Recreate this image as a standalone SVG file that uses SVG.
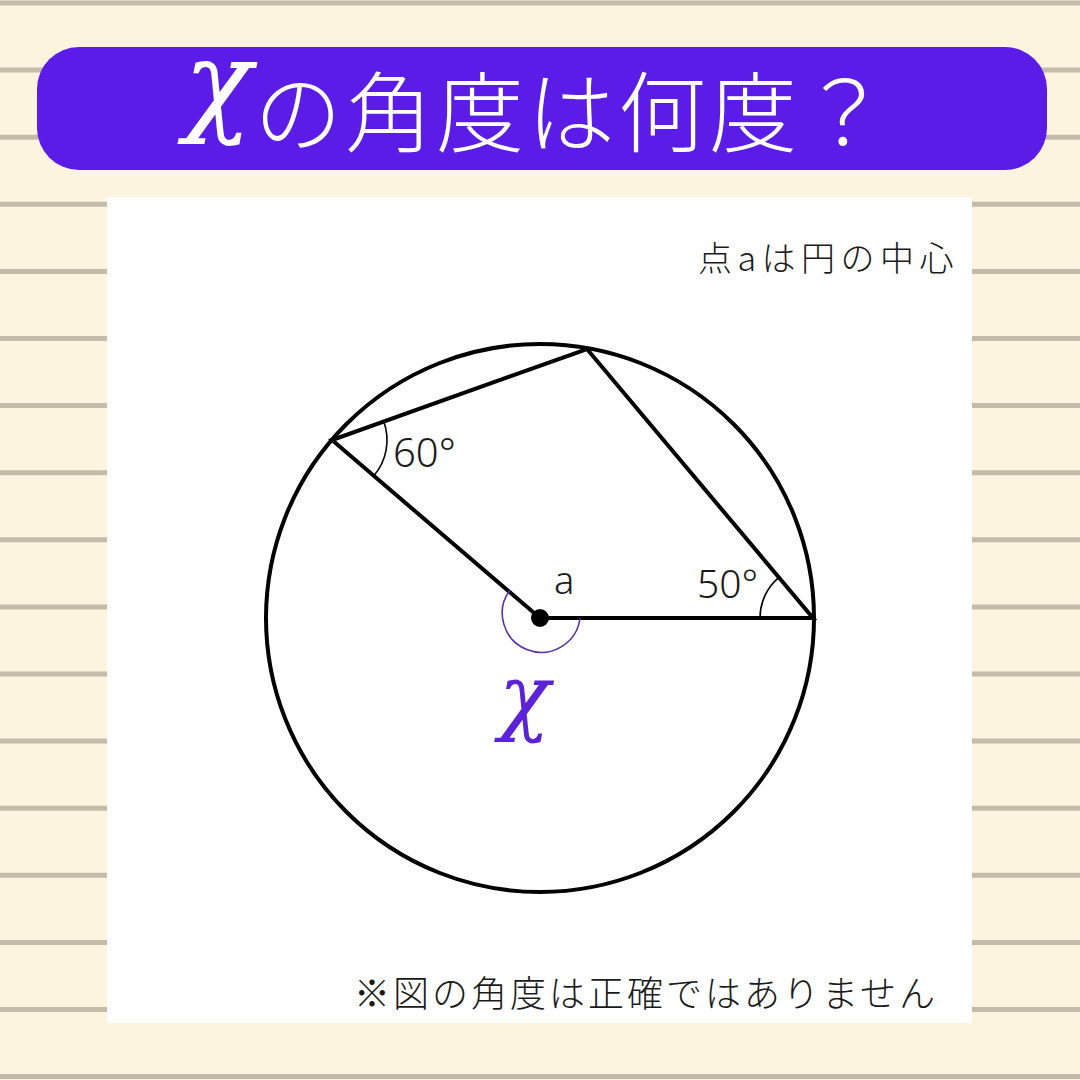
<svg xmlns="http://www.w3.org/2000/svg" width="1080" height="1080" viewBox="0 0 1080 1080">
<style>
.rule{stroke:#C4BBA9;stroke-width:5}
.jp{font-family:"Noto Sans CJK JP","Noto Sans",sans-serif;font-weight:300;fill:#1a1a1a}
.num{font-family:"Noto Sans","Noto Sans CJK JP",sans-serif;font-weight:300;fill:#1a1a1a}
.chi{font-family:"DejaVu Serif",serif;font-style:italic}
.edge{stroke:#000;stroke-width:4;fill:none;stroke-linecap:round}
.ang{stroke:#000;stroke-width:1.6;fill:none}
</style>
<rect width="1080" height="1080" fill="#FDF4DF"/>
<g id="rules">
<line class="rule" x1="0" y1="3" x2="1080" y2="3"/>
<line class="rule" x1="0" y1="70.1" x2="1080" y2="70.1"/>
<line class="rule" x1="0" y1="137.2" x2="1080" y2="137.2"/>
<line class="rule" x1="0" y1="204.3" x2="1080" y2="204.3"/>
<line class="rule" x1="0" y1="271.4" x2="1080" y2="271.4"/>
<line class="rule" x1="0" y1="338.5" x2="1080" y2="338.5"/>
<line class="rule" x1="0" y1="405.6" x2="1080" y2="405.6"/>
<line class="rule" x1="0" y1="472.7" x2="1080" y2="472.7"/>
<line class="rule" x1="0" y1="539.8" x2="1080" y2="539.8"/>
<line class="rule" x1="0" y1="606.9" x2="1080" y2="606.9"/>
<line class="rule" x1="0" y1="674" x2="1080" y2="674"/>
<line class="rule" x1="0" y1="741.1" x2="1080" y2="741.1"/>
<line class="rule" x1="0" y1="808.2" x2="1080" y2="808.2"/>
<line class="rule" x1="0" y1="875.3" x2="1080" y2="875.3"/>
<line class="rule" x1="0" y1="942.4" x2="1080" y2="942.4"/>
<line class="rule" x1="0" y1="1009.5" x2="1080" y2="1009.5"/>
<line class="rule" x1="0" y1="1076.6" x2="1080" y2="1076.6"/>
</g>
<g id="title">
<rect x="37" y="47" width="1010" height="123" rx="42" fill="#5A1CE6"/>
<text class="chi" x="184" y="121" font-size="112" fill="#fff">χ</text>
<text x="254" y="145" font-family="Noto Sans CJK JP,sans-serif" font-weight="300" font-size="88" letter-spacing="3" fill="#fff">の角度は何度？</text>
</g>
<rect id="panel" x="107" y="197" width="865" height="826" fill="#fff"/>
<text class="jp" x="698" y="271" font-size="34" letter-spacing="5.5">点aは円の中心</text>
<g id="figure">
<circle cx="540" cy="618" r="274" class="edge"/>
</g>
<g id="connectors">
<polyline class="edge" points="540,618 332,440 587,349 813,618 540,618"/>
<path class="ang" d="M383.8,421.6 A55,55 0 0 1 373.8,475.8"/>
<path class="ang" d="M760,618 A53,53 0 0 1 778.9,577.4"/>
<path d="M510,590 A39,39 0 1 0 580,618" fill="none" stroke="#5A2CB0" stroke-width="1.6"/>
</g>
<g id="center">
<circle cx="540" cy="618" r="9" fill="#000"/>
<text class="num" x="554" y="594" font-size="38">a</text>
</g>
<text class="num" x="393" y="467" font-size="40">60°</text>
<text class="num" x="697" y="598" font-size="39">50°</text>
<text class="chi" x="499" y="724" font-size="84" fill="#5B22D8">χ</text>
<text class="jp" x="354" y="1007" font-size="36" letter-spacing="3">※図の角度は正確ではありません</text>
</svg>
